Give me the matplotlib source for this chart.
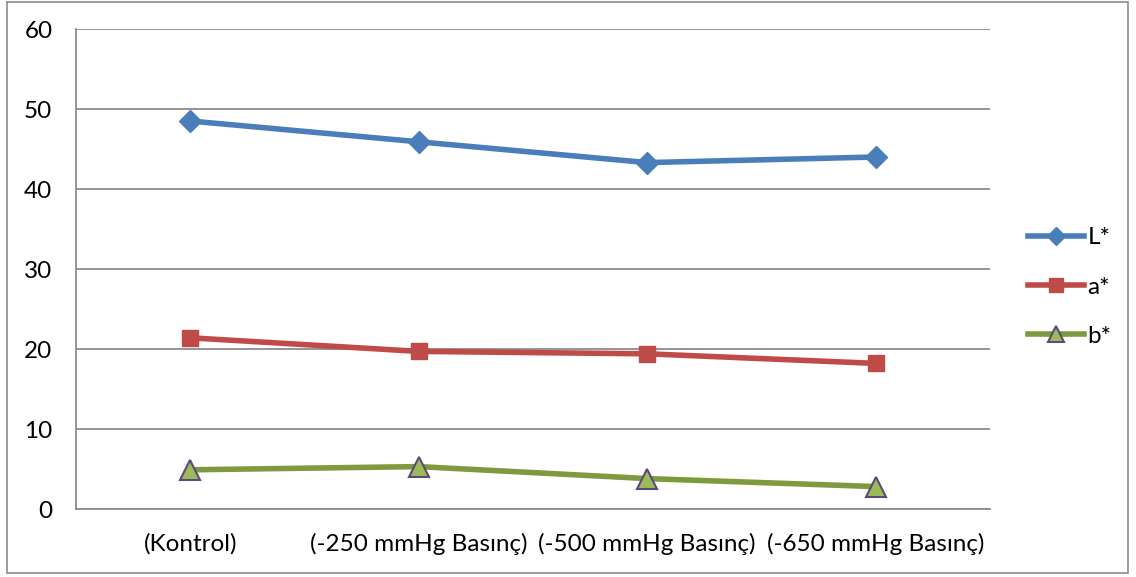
import matplotlib.pyplot as plt
from matplotlib.patches import Rectangle

# Chart data
categories = ["(Kontrol)", "(-250 mmHg Basınç)", "(-500 mmHg Basınç)", "(-650 mmHg Basınç)"]
L_values = [48.5, 45.9, 43.3, 44.0]
a_values = [21.4, 19.7, 19.4, 18.2]
b_values = [4.9, 5.3, 3.8, 2.8]
series_names = ["L*", "a*", "b*"]

plt.rcParams['font.family'] = ['Lato', 'DejaVu Sans']

fig = plt.figure(figsize=(11.36, 5.77), dpi=100)
ax = fig.add_axes([76 / 1136, 1 - 509 / 577, 914 / 1136, 480 / 577])

# Outer chart border
fig.patches.append(Rectangle((7 / 1136, 4 / 577), 1121 / 1136, 571 / 577,
                             transform=fig.transFigure, fill=False,
                             edgecolor='#8c8c8c', linewidth=1.2))

x = list(range(len(categories)))
ax.plot(x, L_values, color='#4a7ebb', linewidth=4, marker='D', markersize=11,
        markerfacecolor='#4a7ebb', markeredgecolor='#4a7ebb', label=series_names[0], zorder=3)
ax.plot(x, a_values, color='#be4b48', linewidth=4, marker='s', markersize=12,
        markerfacecolor='#be4b48', markeredgecolor='#be4b48', label=series_names[1], zorder=3)
ax.plot(x, b_values, color='#7d9a3c', linewidth=4, marker='^', markersize=15,
        markerfacecolor='#9bbb59', markeredgecolor='#5f497a', markeredgewidth=1.5,
        label=series_names[2], zorder=3)

ax.set_xlim(-0.5, len(categories) - 0.5)
ax.set_ylim(0, 60)
ax.set_yticks(range(0, 61, 10))
ax.set_xticks(x)
ax.set_xticklabels(categories)
ax.yaxis.grid(True, color='#8c8c8c', linewidth=1.3)
ax.set_axisbelow(True)
for side in ['top', 'right']:
    ax.spines[side].set_visible(False)
ax.spines['left'].set_color('#8c8c8c')
ax.spines['bottom'].set_color('#8c8c8c')
ax.spines['left'].set_linewidth(1.3)
ax.spines['bottom'].set_linewidth(1.3)
ax.tick_params(axis='both', length=0, labelsize=17.5, colors='black')
ax.tick_params(axis='y', pad=17)
ax.tick_params(axis='x', pad=17)

ax.legend(loc='center left', bbox_to_anchor=(1028 / 1136, 1 - 287 / 577),
          bbox_transform=fig.transFigure, frameon=False, fontsize=17.5,
          borderpad=0, borderaxespad=0, handlelength=2.3, labelspacing=1.17,
          handletextpad=0.15, markerscale=0.8)

fig.savefig("out.png", dpi=100)
